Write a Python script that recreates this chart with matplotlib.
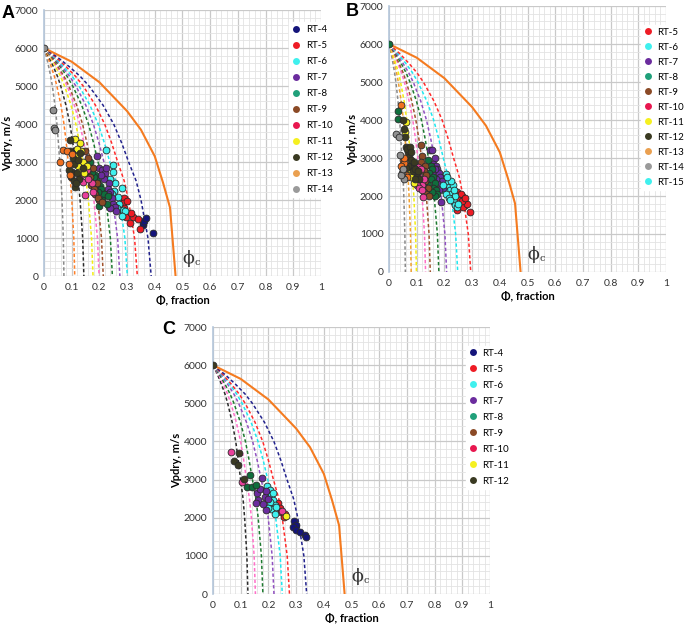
import matplotlib
matplotlib.use("Agg")
import matplotlib.pyplot as plt
from matplotlib.lines import Line2D
from matplotlib.ticker import MultipleLocator

plt.rcParams["font.family"] = ["Lato", "DejaVu Sans"]

# Colours of each rock type (scatter colour, legend colour).
rt_colors = {
    "RT-4": ("#14147a", "#14147a"),
    "RT-5": ("#ee1c25", "#ee1c25"),
    "RT-6": ("#3ff0ee", "#3ff0ee"),
    "RT-7": ("#6b2c9e", "#6b2c9e"),
    "RT-8": ("#0f6e3c", "#20a07a"),
    "RT-9": ("#8b4a26", "#8b4a26"),
    "RT-10": ("#e8409a", "#e8174f"),
    "RT-11": ("#f5f020", "#f5f020"),
    "RT-12": ("#3a3a22", "#3a3a22"),
    "RT-13": ("#f07020", "#eaa050"),
    "RT-14": ("#909090", "#9a9a9a"),
    "RT-15": ("#3ff0ee", "#3ff0ee"),
}

# Orange critical porosity line.
bound_phi = [0, 0.1, 0.2, 0.3, 0.35, 0.4, 0.43, 0.455, 0.475]
bound_v = [6000, 5640, 5100, 4340, 3850, 3150, 2450, 1800, 0]

# Shape of the dashed model curves (fraction of end porosity vs Vp).
shape_v = [6000, 5750, 5500, 5250, 5000, 4500, 4000, 3500, 3000, 2500, 2000, 1000, 0]
shape_frac = [0, 0.13, 0.24, 0.34, 0.42, 0.55, 0.65, 0.725, 0.79, 0.86, 0.905, 0.97, 1.0]

A_curve_ends = [0.072, 0.111, 0.144, 0.177, 0.199, 0.214, 0.247, 0.274, 0.301, 0.337, 0.387]
A_curve_colors = ["#8a8a8a", "#ff7f27", "#2b2b2b", "#f2ee10", "#ff70c8", "#a0522d",
                  "#1e7a30", "#9050c0", "#1ee8f0", "#ff2a2a", "#22228c"]
B_curve_ends = [0.059, 0.08, 0.099, 0.132, 0.149, 0.18, 0.208, 0.248, 0.295]
B_curve_colors = ["#8a8a8a", "#f0a030", "#f2ee10", "#ff70c8", "#a0522d",
                  "#1e7a30", "#9050c0", "#1ee8f0", "#ff2a2a"]
C_curve_ends = [0.126, 0.153, 0.18, 0.22, 0.25, 0.276, 0.338]
C_curve_colors = ["#2b2b2b", "#ff70c8", "#1e7a30", "#9050c0", "#1ee8f0", "#ff2a2a", "#22228c"]

x_tick_labels = ["0", "0.1", "0.2", "0.3", "0.4", "0.5", "0.6", "0.7", "0.8", "0.9", "1"]

# Panel A measured data.
A_data = {
    "RT-4": ([0.356, 0.359, 0.362, 0.367, 0.395], [1340, 1400, 1450, 1535, 1140]),
    "RT-5": ([0.29, 0.286, 0.288, 0.284, 0.296, 0.323, 0.34, 0.31, 0.347, 0.30, 0.315],
             [2050, 1910, 1800, 1700, 1560, 1560, 1500, 1400, 1230, 1980, 1650]),
    "RT-6": ([0.224, 0.25, 0.248, 0.256, 0.24, 0.252, 0.268, 0.28, 0.272, 0.286, 0.292, 0.28, 0.265, 0.245],
             [3310, 2920, 2750, 2450, 2550, 2250, 2090, 2310, 1900, 1740, 1720, 1580, 1800, 2150]),
    "RT-7": ([0.19, 0.2, 0.21, 0.22, 0.215, 0.235, 0.23, 0.24, 0.245, 0.25, 0.255, 0.232, 0.205, 0.225, 0.26, 0.24],
             [3150, 2850, 2800, 2700, 2550, 2450, 2300, 2200, 2050, 1900, 1820, 2150, 2650, 2850, 1700, 1800]),
    "RT-8": ([0.166, 0.172, 0.185, 0.19, 0.2, 0.205, 0.215, 0.226, 0.2, 0.18, 0.195, 0.21, 0.23, 0.175],
             [3000, 2800, 2650, 2500, 2400, 2300, 2150, 1900, 1850, 2600, 2200, 2000, 2100, 2750]),
    "RT-9": ([0.148, 0.16, 0.155, 0.178, 0.19, 0.185, 0.2, 0.195, 0.17, 0.165, 0.18, 0.21],
             [3300, 3100, 2700, 2850, 2450, 2150, 2000, 2050, 2400, 2600, 2300, 1950]),
    "RT-10": ([0.135, 0.142, 0.172, 0.148, 0.176, 0.16, 0.13, 0.155],
              [2650, 2480, 2440, 2130, 2220, 2550, 2850, 2800]),
    "RT-11": ([0.112, 0.13, 0.135, 0.118, 0.142, 0.124, 0.155, 0.128, 0.145, 0.12],
              [3600, 3490, 3300, 3150, 3000, 2900, 2900, 2750, 2700, 3350]),
    "RT-12": ([0.094, 0.1, 0.105, 0.11, 0.1, 0.118, 0.112, 0.125, 0.09, 0.098, 0.108, 0.13, 0.115, 0.122, 0.095, 0.14],
              [3580, 3230, 3100, 2950, 2750, 2700, 2350, 2550, 2800, 2600, 2500, 3250, 2450, 3050, 3300, 2850]),
    "RT-13": ([0.058, 0.07, 0.082, 0.09, 0.1, 0.095], [3010, 3310, 3300, 2950, 3200, 2650]),
    "RT-14": ([0.0, 0.034, 0.037, 0.038], [6000, 4370, 3900, 3830]),
}

# Panel B measured data.
B_data = {
    "RT-5": ([0.245, 0.258, 0.262, 0.27, 0.272, 0.276, 0.245, 0.294, 0.26, 0.268, 0.28, 0.252, 0.265, 0.275],
             [2105, 1930, 2000, 1800, 1850, 1755, 1620, 1580, 2050, 1700, 1800, 1900, 1880, 1950]),
    "RT-6": ([0.205, 0.2, 0.21, 0.215, 0.22, 0.225, 0.23, 0.235, 0.24, 0.245, 0.2, 0.205],
             [2590, 2450, 2350, 2250, 2150, 2050, 1950, 1850, 1750, 1700, 2150, 2050]),
    "RT-7": ([0.147, 0.155, 0.165, 0.16, 0.17, 0.175, 0.18, 0.185, 0.165, 0.19, 0.195, 0.188, 0.175, 0.18, 0.17, 0.155],
             [3200, 3210, 2990, 2850, 2800, 2700, 2600, 2500, 2700, 2400, 2200, 1830, 2350, 2150, 2450, 2600]),
    "RT-8": ([0.0, 0.033, 0.033, 0.141, 0.15, 0.155, 0.145, 0.16, 0.15, 0.165, 0.16, 0.17, 0.175, 0.165, 0.14, 0.155],
             [6000, 4250, 4030, 2940, 2800, 2700, 2600, 2500, 2450, 2350, 2200, 2150, 2050, 2000, 2300, 2100]),
    "RT-9": ([0.117, 0.12, 0.115, 0.13, 0.125, 0.135, 0.13, 0.14, 0.128, 0.135, 0.145, 0.12, 0.105],
             [3330, 3050, 2900, 2800, 2650, 2550, 2400, 2200, 2100, 2050, 2000, 2250, 2450]),
    "RT-10": ([0.105, 0.1, 0.11, 0.095, 0.112, 0.12, 0.1, 0.108, 0.118, 0.123, 0.09, 0.115, 0.125],
              [2760, 2600, 2500, 2450, 2350, 2300, 2300, 2200, 2150, 1970, 2750, 2700, 2450]),
    "RT-11": ([0.057, 0.06, 0.07, 0.075, 0.08, 0.065, 0.09], [3680, 3950, 2650, 2550, 2500, 2800, 2350]),
    "RT-12": ([0.051, 0.053, 0.057, 0.063, 0.068, 0.072, 0.065, 0.078, 0.081, 0.07, 0.085, 0.06, 0.075, 0.08,
               0.09, 0.095, 0.1, 0.11, 0.105, 0.095],
              [3990, 3770, 3550, 3290, 3150, 3030, 3250, 2950, 2760, 2800, 2650, 2750, 3300, 3150,
               2900, 2700, 2500, 2450, 2650, 2450]),
    "RT-13": ([0.042, 0.05, 0.055, 0.05, 0.06, 0.045, 0.065, 0.055], [4390, 2940, 2860, 2680, 2550, 2800, 2500, 3000]),
    "RT-14": ([0.027, 0.039, 0.048, 0.053, 0.045, 0.05, 0.035], [3640, 3070, 2605, 2456, 2550, 2700, 3550]),
    "RT-15": ([0.23, 0.225, 0.21, 0.195, 0.24, 0.235, 0.25, 0.215, 0.22], [2300, 2400, 2500, 2300, 2000, 2150, 1800, 1950, 1900]),
}

# Panel C measured data.
C_data = {
    "RT-4": ([0.293, 0.299, 0.289, 0.301, 0.313, 0.331, 0.337], [1920, 1805, 1760, 1675, 1630, 1540, 1500]),
    "RT-5": ([0.235, 0.24, 0.247, 0.259, 0.255], [2375, 2250, 2155, 2095, 2025]),
    "RT-6": ([0.195, 0.205, 0.211, 0.216, 0.222, 0.205, 0.211, 0.223, 0.228, 0.2, 0.215],
             [2830, 2725, 2595, 2470, 2340, 2400, 2230, 2110, 2280, 2250, 2650]),
    "RT-7": ([0.175, 0.157, 0.163, 0.154, 0.186, 0.193, 0.18, 0.2, 0.17, 0.19],
             [3030, 2655, 2460, 2390, 2550, 2200, 2350, 2500, 2750, 2700]),
    "RT-8": ([0.135, 0.123, 0.139, 0.154], [3120, 2810, 2800, 2850]),
    "RT-10": ([0.064, 0.106, 0.25], [3730, 2940, 2180]),
    "RT-11": ([0.262], [2040]),
    "RT-12": ([0.0, 0.093, 0.075, 0.09, 0.111], [6000, 3705, 3495, 3375, 3005]),
}

A_legend = ["RT-4", "RT-5", "RT-6", "RT-7", "RT-8", "RT-9", "RT-10", "RT-11", "RT-12", "RT-13", "RT-14"]
B_legend = ["RT-5", "RT-6", "RT-7", "RT-8", "RT-9", "RT-10", "RT-11", "RT-12", "RT-13", "RT-14", "RT-15"]
C_legend = ["RT-4", "RT-5", "RT-6", "RT-7", "RT-8", "RT-9", "RT-10", "RT-11", "RT-12"]


def draw_panel(ax, ylabel, curve_ends, curve_colors, data, legend_names, legend_anchor, labelspacing):
    # Grid.
    ax.set_xlim(0, 1)
    ax.set_ylim(0, 7000)
    ax.set_xticks([i / 10 for i in range(11)])
    ax.set_xticklabels(x_tick_labels)
    ax.xaxis.set_minor_locator(MultipleLocator(0.02))
    ax.yaxis.set_major_locator(MultipleLocator(1000))
    ax.yaxis.set_minor_locator(MultipleLocator(200))
    ax.grid(which="major", color="#c9c9c9", lw=0.9)
    ax.grid(which="minor", color="#e3e3e3", lw=0.6)
    ax.set_axisbelow(True)
    for side in ["top", "right", "bottom"]:
        ax.spines[side].set_visible(False)
    ax.spines["left"].set_color("#b4c6da")
    ax.spines["left"].set_linewidth(1.2)
    ax.tick_params(which="both", length=0, labelsize=7.5, labelcolor="#333333")
    ax.tick_params(axis="y", pad=4)
    ax.tick_params(axis="x", pad=5)

    # Model curves.
    for end, color in zip(curve_ends, curve_colors):
        ax.plot([f * end for f in shape_frac], shape_v, color=color,
                ls=(0, (2.2, 1.6)), lw=1.1, zorder=2)
    ax.plot(bound_phi, bound_v, color="#f47b20", lw=1.5, zorder=2)

    # Measured points.
    for name, (xs, ys) in data.items():
        ax.scatter(xs, ys, s=24, color=rt_colors[name][0], edgecolor="#2a2a2a",
                   linewidth=0.6, zorder=3)

    # Critical porosity label.
    ax.text(0.5, 330, "ϕ", fontsize=12.5, color="#333333", family="DejaVu Serif")
    ax.text(0.543, 290, "c", fontsize=7, color="#333333", family="DejaVu Serif")

    ax.set_xlabel("Φ, fraction", fontsize=8, fontweight="bold", labelpad=2)
    ax.set_ylabel(ylabel, fontsize=8, fontweight="bold", labelpad=1)

    handles = [Line2D([], [], ls="", marker="o", ms=5, color=rt_colors[n][1],
                      markeredgewidth=0) for n in legend_names]
    leg = ax.legend(handles, legend_names, loc="upper left", bbox_to_anchor=legend_anchor,
                    frameon=True, fancybox=False, framealpha=1, edgecolor="white",
                    fontsize=7, labelspacing=labelspacing, handlelength=0.8,
                    handletextpad=0.6, borderpad=0.3, borderaxespad=0)
    leg.set_zorder(5)


fig = plt.figure(figsize=(6.85, 6.27), dpi=100)

ax_a = fig.add_axes([0.0642, 0.5598, 0.4044, 0.4242])
ax_b = fig.add_axes([0.5679, 0.5662, 0.4044, 0.4242])
ax_c = fig.add_axes([0.311, 0.0526, 0.4044, 0.4258])

draw_panel(ax_a, "Vpdry, m/s", A_curve_ends, A_curve_colors, A_data, A_legend, (0.885, 0.955), 0.72)
draw_panel(ax_b, "Vpdy, m/s", B_curve_ends, B_curve_colors, B_data, B_legend, (0.91, 0.93), 0.62)
draw_panel(ax_c, "Vpdry, m/s", C_curve_ends, C_curve_colors, C_data, C_legend, (0.913, 0.93), 0.72)

# Panel letters.
fig.text(2 / 685, 1 - 13 / 627, "A", fontsize=13, fontweight="bold",
         family="Liberation Sans", va="center", ha="left")
fig.text(346 / 685, 1 - 12 / 627, "B", fontsize=13, fontweight="bold",
         family="Liberation Sans", va="center", ha="left")
fig.text(162 / 685, 1 - 330 / 627, "C", fontsize=13, fontweight="bold",
         family="Liberation Sans", va="center", ha="left")

fig.savefig("out.png", dpi=100)
